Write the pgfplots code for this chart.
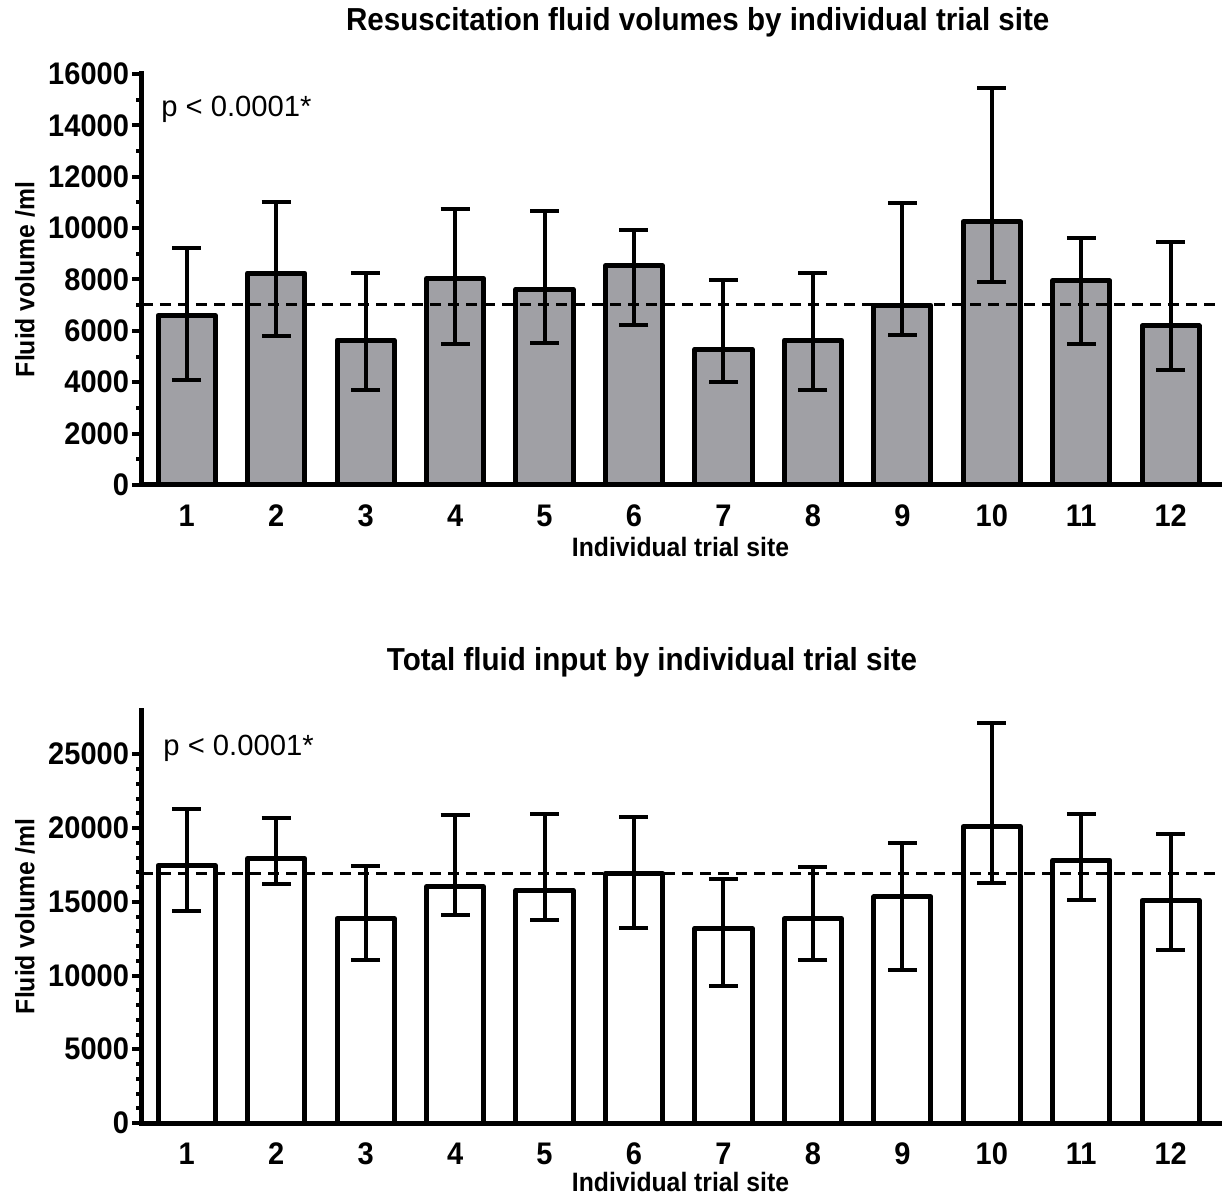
\documentclass[border=0pt]{standalone}
\usepackage{fontspec}
\setmainfont{Liberation Sans}[BoldFeatures={FakeStretch=0.93}]
\usepackage{pgfplots}
\usepackage{pgfplotstable}
\pgfplotsset{compat=1.18}
\definecolor{bargray}{RGB}{160,160,165}

\pgfplotstableread{
x y ep em
1 6600 2620 2510
2 8250 2760 2450
3 5640 2610 1940
4 8040 2690 2550
5 7630 3040 2090
6 8530 1390 2300
7 5290 2690 1280
8 5640 2600 1940
9 7000 3980 1180
10 10250 5220 2340
11 7950 1650 2460
12 6190 3280 1720
}\resus

\pgfplotstableread{
x y ep em
1 17460 3800 3060
2 17930 2720 1760
3 13860 3530 2790
4 16010 4850 1880
5 15780 5170 2040
6 16920 3850 3720
7 13200 3310 3890
8 13840 3530 2810
9 15330 3620 4980
10 20090 7060 3850
11 17820 3150 2670
12 15100 4490 3390
}\total

\pgfplotsset{
  siteaxis/.style={
    scale only axis,
    width=538.5pt,
    anchor=south west,
    xmin=0.5, xmax=12.54,
    ymin=0,
    axis x line*=bottom,
    axis y line*=left,
    axis line style={-, line width=2.5pt, line cap=rect},
    xtick={1,...,12},
    xtick style={draw=none},
    tick align=outside,
    major tick length=5pt,
    minor tick length=3pt,
    ytick style={line width=2pt, black},
    minor tick style={line width=1.5pt},
    scaled y ticks=false,
    /pgf/number format/1000 sep={},
    /pgf/number format/assume math mode=true,
    ticklabel style={font=\fontsize{15.6}{18}\selectfont\bfseries},
    xticklabel style={yshift=-1.5pt},
    yticklabel style={xshift=2pt},
    xlabel={Individual trial site},
    ylabel={Fluid volume /ml},
    label style={font=\fontsize{13.3}{15}\selectfont\bfseries},
    every axis title shift=0pt,
    title style={font=\fontsize{15.9}{19}\selectfont\bfseries},
    clip=false,
  },
  sitebars/.style={
    ybar, bar width=0.64, draw=black, line width=2.5pt, line join=round,
    error bars/y dir=both, error bars/y explicit,
    error bars/error bar style={line width=2pt, black},
    error bars/error mark options={rotate=90, line width=2pt, mark size=7.25pt, black},
  },
}

\begin{document}
\begin{tikzpicture}
\useasboundingbox (0,0) rectangle (614pt,598pt);

\begin{axis}[
  siteaxis,
  at={(71pt,355.5pt)},
  height=205.5pt,
  ymax=16000,
  ytick={0,2000,...,16000},
  minor y tick num=1,
  title={Resuscitation fluid volumes by individual trial site},
  title style={at={(axis description cs:0.516,1.1265)}, anchor=center},
  xlabel style={at={(axis description cs:0.5,-0.151)}, anchor=center},
  ylabel style={at={(axis description cs:-0.1086,0.5)}, anchor=center},
]
\addplot[sitebars, fill=bargray] table[x=x, y=y, y error plus=ep, y error minus=em] {\resus};
\addplot[black, line width=1.5pt, dash pattern=on 5.5pt off 3.5pt] coordinates {(0.5,7040) (12.56,7040)};
\node[anchor=west, font=\fontsize{14.6}{17}\selectfont] at (rel axis cs:0.0114,0.913) {p < 0.0001*};
\end{axis}

\begin{axis}[
  siteaxis,
  at={(71pt,36.5pt)},
  height=206.5pt,
  ymax=28000,
  ytick={0,5000,...,25000},
  minor y tick num=4,
  title={Total fluid input by individual trial site},
  title style={at={(axis description cs:0.4735,1.116)}, anchor=center},
  xlabel style={at={(axis description cs:0.5,-0.143)}, anchor=center},
  ylabel style={at={(axis description cs:-0.1086,0.5)}, anchor=center},
]
\addplot[sitebars, fill=white] table[x=x, y=y, y error plus=ep, y error minus=em] {\total};
\addplot[black, line width=1.5pt, dash pattern=on 5.5pt off 3.5pt] coordinates {(0.5,16920) (12.56,16920)};
\node[anchor=west, font=\fontsize{14.6}{17}\selectfont] at (rel axis cs:0.0134,0.908) {p < 0.0001*};
\end{axis}
\end{tikzpicture}
\end{document}
